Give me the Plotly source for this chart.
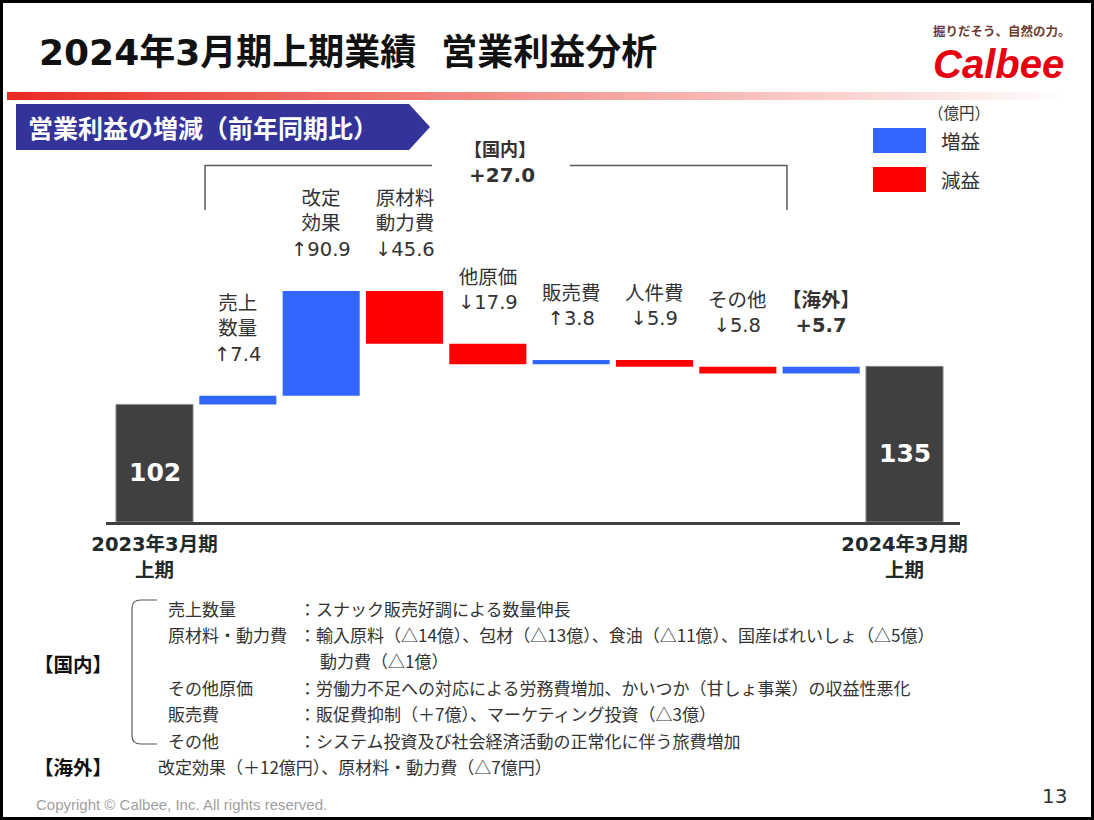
import plotly.graph_objects as go

# ---------------- data ----------------
categories = ["2023年3月期上期", "売上数量", "改定効果", "原材料動力費", "他原価",
              "販売費", "人件費", "その他", "海外", "2024年3月期上期"]
values = [102, 7.4, 90.9, -45.6, -17.9, 3.8, -5.9, -5.8, 5.7, 135]
measures = ["absolute"] + ["relative"] * 8 + ["absolute"]
bar_names = ["", "売上<br>数量", "改定<br>効果", "原材料<br>動力費", "他原価",
             "販売費", "人件費", "その他", "<b>【海外】</b>", ""]
tick_labels = ["<b>2023年3月期</b><br><b>上期</b>", "<b>2024年3月期</b><br><b>上期</b>"]
domestic_label = "【国内】"
domestic_total = 27.0
unit_label = "（億円）"
legend_labels = ["増益", "減益"]
title_text = "2024年3月期上期業績\u00a0\u00a0営業利益分析"
subtitle_text = "営業利益の増減（前年同期比）"
note_heads = ["売上数量", "原材料・動力費", "", "その他原価", "販売費", "その他"]
note_bodies = [
    "：スナック販売好調による数量伸長",
    "：輸入原料（△14億）、包材（△13億）、食油（△11億）、国産ばれいしょ（△5億）",
    "動力費（△1億）",
    "：労働力不足への対応による労務費増加、かいつか（甘しょ事業）の収益性悪化",
    "：販促費抑制（＋7億）、マーケティング投資（△3億）",
    "：システム投資及び社会経済活動の正常化に伴う旅費増加",
]
overseas_note = "改定効果（＋12億円）、原材料・動力費（△7億円）"
copyright_text = "Copyright © Calbee, Inc. All rights reserved."
page_number = "13"
slogan = "掘りだそう、自然の力。"
logo_text = "Calbee"

# ---------------- styles ----------------
W, H = 1094, 820
BLUE = "#3366FF"
RED = "#FF0000"
GRAY = "#404040"
TXT = "#333333"
JP = "Noto Sans CJK JP"
MIX = "DejaVu Sans, Noto Sans CJK JP"

# plot area in pixels
PL, PR, PT, PB = 106, 960, 100, 522
PX_PER_UNIT = 1.153


def fx(px):
    return px / W


def fy(py):
    return 1 - py / H


def note(x, y, text, size, color=TXT, family=JP, xanchor="center"):
    return dict(x=fx(x), y=fy(y), xref="paper", yref="paper", xanchor=xanchor,
                yanchor="middle", text=text, showarrow=False,
                font=dict(family=family, size=size, color=color))


# cumulative positions of bars (for label placement)
spans = []
run = 0.0
for v, m in zip(values, measures):
    if m == "absolute":
        spans.append((0.0, v))
        run = v
    else:
        spans.append((run, run + v))
        run += v

fig = go.Figure()
fig.add_trace(go.Waterfall(
    x=categories, y=values, measure=measures, width=0.925,
    increasing=dict(marker=dict(color=BLUE)),
    decreasing=dict(marker=dict(color=RED)),
    totals=dict(marker=dict(color=GRAY, line=dict(color="#8c8c8c", width=1))),
    connector=dict(visible=False),
    textinfo="none", hoverinfo="skip",
))

annotations = []
# labels above the change bars
for i, (v, m) in enumerate(zip(values, measures)):
    if m != "relative":
        continue
    top = max(spans[i])
    if "海外" in categories[i]:
        vtxt = f"<b>+{v}</b>"
    else:
        vtxt = ("↑" if v > 0 else "↓") + f"{abs(v)}"
    annotations.append(dict(
        x=categories[i], y=top, xref="x", yref="y", xanchor="center", yanchor="bottom",
        yshift=28, text=bar_names[i] + "<br>" + vtxt, showarrow=False,
        font=dict(family=MIX, size=19.5, color=TXT), align="center"))

# values inside the total bars
for i, (v, m) in enumerate(zip(values, measures)):
    if m == "absolute":
        annotations.append(dict(
            x=categories[i], y=v / 2, xref="x", yref="y", xanchor="center",
            yanchor="middle", yshift=-9,
            text=f"<b>{v}</b>", showarrow=False,
            font=dict(family="DejaVu Sans", size=25, color="white")))

# domestic bracket label
annotations.append(note(500, 148, f"<b>{domestic_label}</b>", 18))
annotations.append(note(502, 175, f"<b>+{domestic_total:.1f}</b>", 20, family="DejaVu Sans"))

# title, subtitle, logo
annotations.append(note(37, 52, f"<b>{title_text}</b>", 36, color="#111111",
                        family=MIX, xanchor="left"))
annotations.append(note(26, 127, f"<b>{subtitle_text}</b>", 25, color="white",
                        xanchor="left"))
annotations.append(note(1002, 30, f"<b>{slogan}</b>", 12.5, color="#6E3B2E"))
annotations.append(note(998, 64, f"<b><i>{logo_text}</i></b>", 40, color="#E60012",
                        family="Liberation Sans"))

# legend
annotations.append(note(959, 112, unit_label, 15.5))
for k, lab in enumerate(legend_labels):
    annotations.append(note(939, 141 + 39 * k, lab, 19.5, xanchor="left"))

# notes
note_y = [608, 634, 660, 687, 713, 740]
for k, (hd, bd) in enumerate(zip(note_heads, note_bodies)):
    if hd:
        annotations.append(note(166, note_y[k], hd, 17, xanchor="left"))
    bx = 297 if bd.startswith("：") else 318
    annotations.append(note(bx, note_y[k], bd, 17, xanchor="left"))
annotations.append(note(32, 663, f"<b>{domestic_label}</b>", 19.5, color="#111111",
                        xanchor="left"))
annotations.append(note(32, 766, "<b>【海外】</b>", 19.5, color="#111111", xanchor="left"))
annotations.append(note(156, 766, overseas_note, 17, xanchor="left"))
annotations.append(note(34, 804, copyright_text, 15, color="#A0A0A0",
                        family="Liberation Sans", xanchor="left"))
annotations.append(note(1069, 796, page_number, 20, family="DejaVu Sans", xanchor="right"))

shapes = []
# page frame
shapes.append(dict(type="rect", xref="paper", yref="paper", x0=fx(1.5), x1=fx(1092.5),
                   y0=fy(1.5), y1=fy(818.5), line=dict(color="black", width=3)))
# red gradient rule
n = 90
x_start, x_end = 7, 1075
c0 = (232, 45, 35)
for s in range(n):
    t = s / (n - 1)
    col = tuple(int(round(c0[j] + (255 - c0[j]) * t)) for j in range(3))
    xa = x_start + (x_end - x_start) * s / n
    xb = x_start + (x_end - x_start) * (s + 1) / n + 0.6
    shapes.append(dict(type="rect", xref="paper", yref="paper", x0=fx(xa), x1=fx(xb),
                       y0=fy(92), y1=fy(100), line=dict(width=0),
                       fillcolor=f"rgb{col}", layer="below"))


def path(pts, close=False):
    s = "M " + " L ".join(f"{fx(x):.5f},{fy(y):.5f}" for x, y in pts)
    return s + (" Z" if close else "")


# subtitle banner
shapes.append(dict(type="path", xref="paper", yref="paper",
                   path=path([(16, 104), (409, 104), (430, 127), (409, 150), (16, 150)], True),
                   fillcolor="#333399", line=dict(width=0)))
# domestic bracket over chart
shapes.append(dict(type="path", xref="paper", yref="paper",
                   path=path([(205, 210), (205, 165.5), (432, 165.5)]),
                   line=dict(color="#595959", width=1.5)))
shapes.append(dict(type="path", xref="paper", yref="paper",
                   path=path([(570, 165.5), (787, 165.5), (787, 210)]),
                   line=dict(color="#595959", width=1.5)))
# legend boxes
for k, col in enumerate([BLUE, RED]):
    shapes.append(dict(type="rect", xref="paper", yref="paper", x0=fx(873), x1=fx(926),
                       y0=fy(128 + 39 * k), y1=fy(153 + 39 * k),
                       fillcolor=col, line=dict(width=0)))
# notes bracket
shapes.append(dict(type="path", xref="paper", yref="paper",
                   path=(f"M {fx(157):.5f},{fy(600):.5f} L {fx(141):.5f},{fy(600):.5f} "
                         f"Q {fx(132):.5f},{fy(600):.5f} {fx(132):.5f},{fy(608):.5f} "
                         f"L {fx(132):.5f},{fy(736):.5f} "
                         f"Q {fx(132):.5f},{fy(744):.5f} {fx(141):.5f},{fy(744):.5f} "
                         f"L {fx(157):.5f},{fy(744):.5f}"),
                   line=dict(color="#595959", width=1.2)))

fig.update_layout(
    width=W, height=H,
    margin=dict(l=0, r=0, t=0, b=0, pad=0, autoexpand=False),
    paper_bgcolor="white", plot_bgcolor="rgba(0,0,0,0)",
    showlegend=False,
    annotations=annotations, shapes=shapes,
    xaxis=dict(domain=[fx(PL), fx(PR)], type="category", range=[-0.582, 9.666],
               showline=True, linecolor=GRAY, linewidth=3, showgrid=False, zeroline=False,
               ticks="", tickvals=[categories[0], categories[-1]], ticktext=tick_labels,
               tickfont=dict(family=MIX, size=19.5, color="#1f2a2a"), fixedrange=True,
               automargin=False, ticklabelstandoff=3),
    yaxis=dict(domain=[fy(PB), fy(PT)], range=[0, (PB - PT) / PX_PER_UNIT],
               showgrid=False, zeroline=False, showticklabels=False, ticks="",
               fixedrange=True, automargin=False),
)

fig.write_html("out.html", config={"displayModeBar": False},
               post_script="document.body.style.margin='0';")
